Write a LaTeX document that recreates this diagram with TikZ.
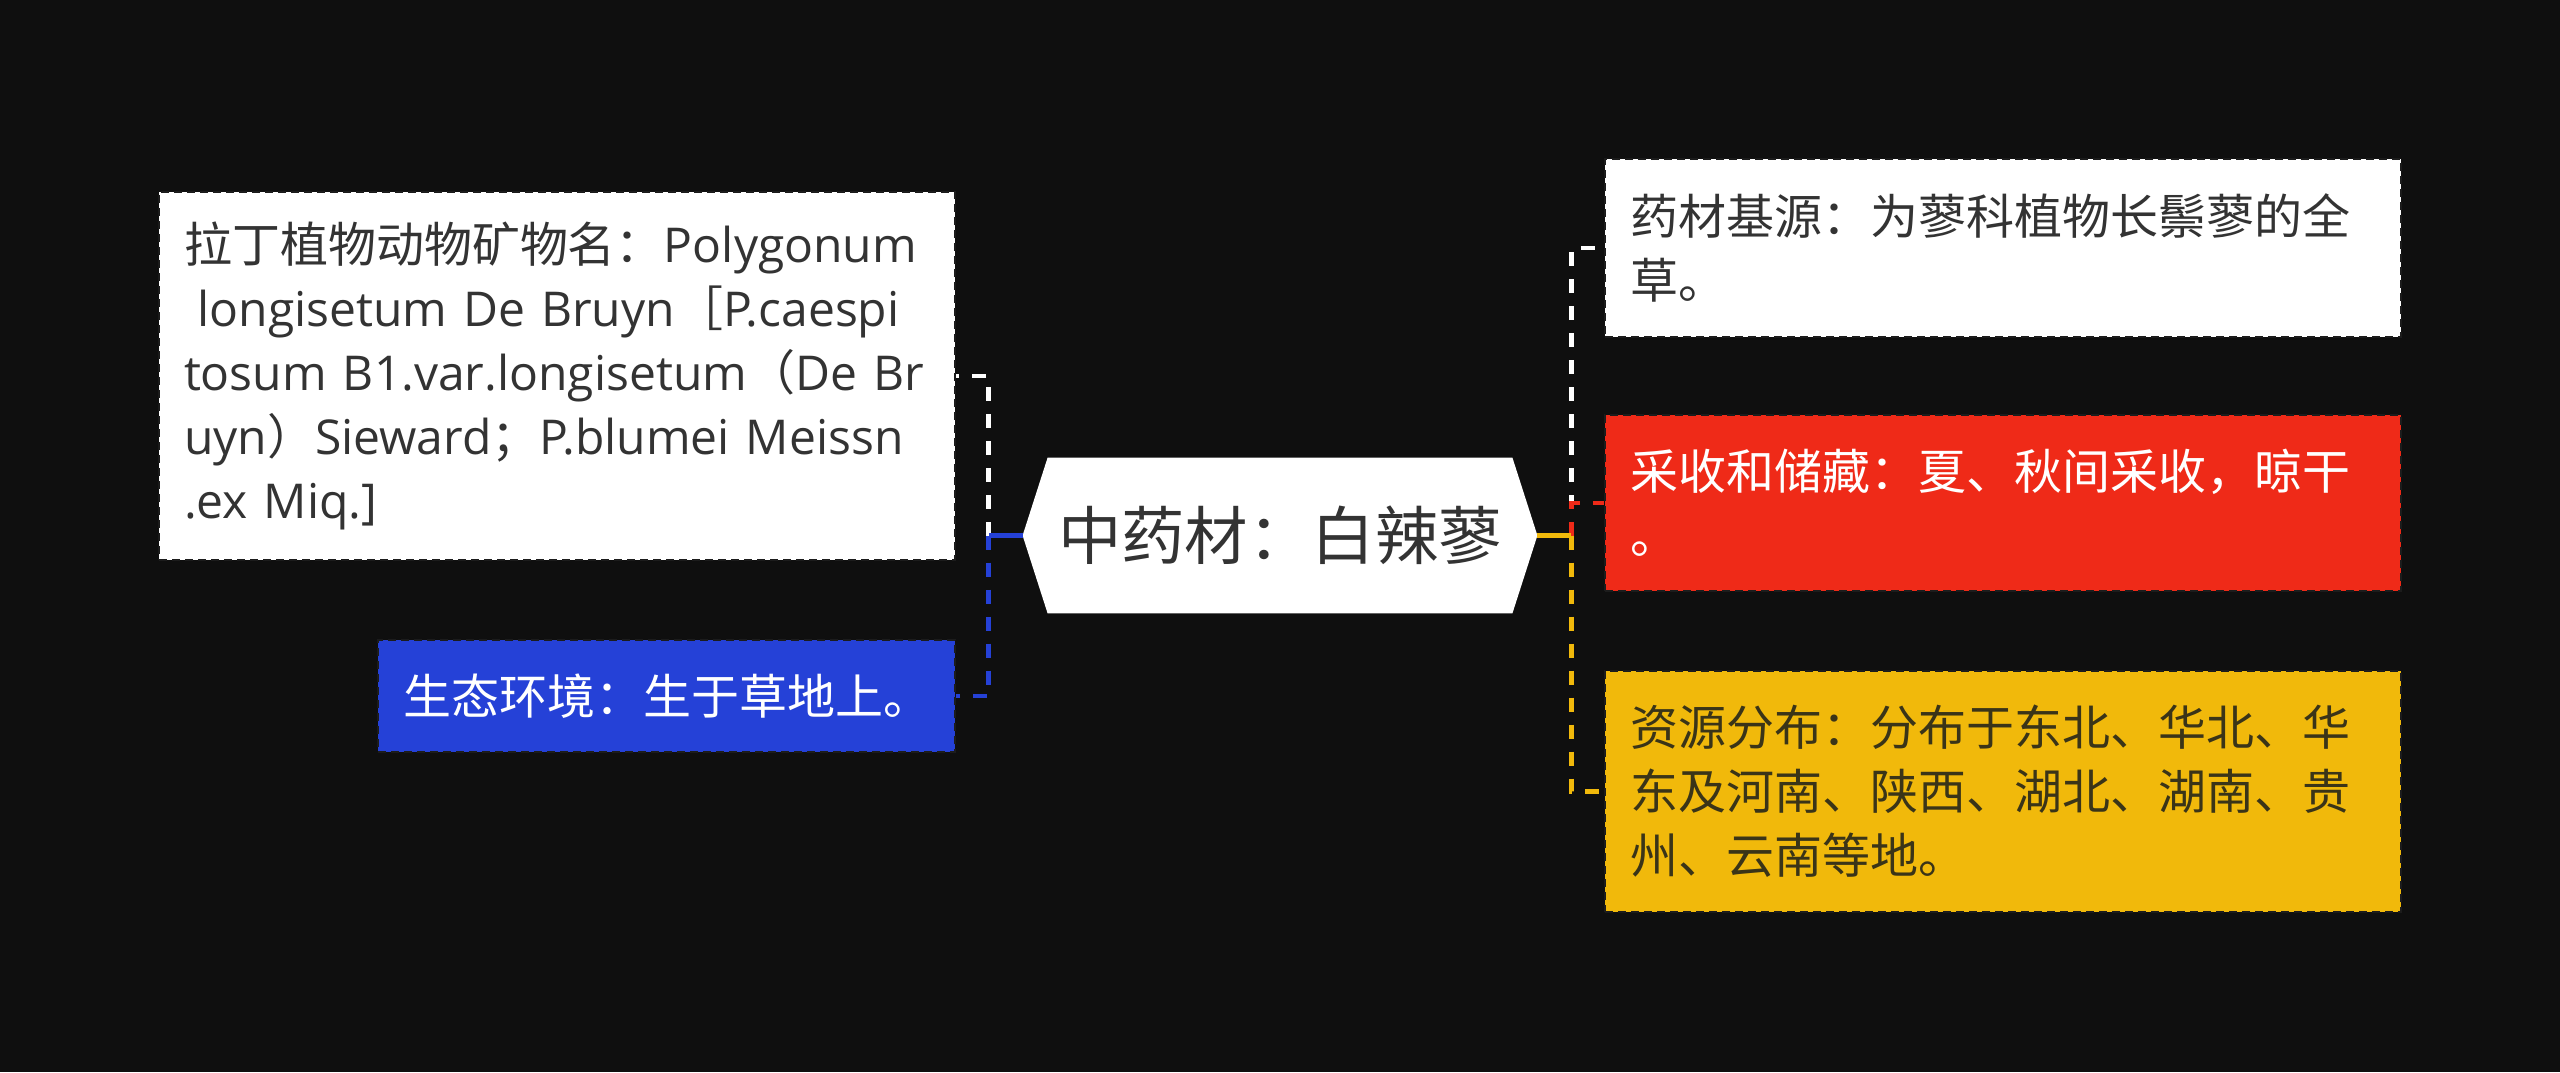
\documentclass[tikz,border=0pt]{standalone}
\usepackage{fontspec}
\setmainfont{Open Sans}
\newfontfamily\cjk{Noto Sans CJK SC}
\usetikzlibrary{calc}
\definecolor{bg}{HTML}{0F0F0F}
\definecolor{txtdark}{HTML}{333333}
\definecolor{cblue}{HTML}{2541D7}
\definecolor{cred}{HTML}{EF2A18}
\definecolor{cyellow}{HTML}{F1B90B}
\definecolor{ytxt}{HTML}{3A3418}
\definecolor{bordc}{HTML}{1C1C1C}
\begin{document}
\begin{tikzpicture}[x=0.5pt,y=-0.5pt,
  box/.style={draw=bordc, line width=1pt, dash pattern=on 4pt off 2.5pt,
    rectangle, inner xsep=12.5pt, inner ysep=0pt, align=left, anchor=center,
    font=\fontsize{24pt}{32pt}\selectfont},
  conn/.style={line width=2.4pt, dash pattern=on 7pt off 6.5pt},
  stub/.style={line width=2.4pt}]
\fill[bg] (0,0) rectangle (2560,1072);
\useasboundingbox (0,0) rectangle (2560,1072);

% left boxes
\node[box, fill=white, text=txtdark, text width=373pt, minimum height=184pt] (lw) at (557,376)
 {{\cjk 拉丁植物动物矿物名：}Polygonum\\
  \hspace*{0.28em}longisetum De Bruyn{\cjk ［}P.caespi\\
  tosum B1.var.longisetum{\cjk （}De Br\\
  uyn{\cjk ）}Sieward{\cjk ；}P.blumei Meissn\\
  .ex Miq.]};
\node[box, fill=cblue, text=white, text width=263.5pt, minimum height=56pt, font=\cjk\fontsize{24pt}{32pt}\selectfont] (bl) at (666.5,696)
 {生态环境：生于草地上。};

% centre
\node[inner sep=0pt, minimum width=232pt, minimum height=77.5pt, text=txtdark, font=\cjk\fontsize{31.7pt}{36pt}\selectfont] (c) at (1280,535.5) {中药材：白辣蓼};
\coordinate (cl) at ($(c.west)+(-25,0)$);
\coordinate (cr) at ($(c.east)+(25,0)$);
\fill[white] (cl) -- (c.north west) -- (c.north east) -- (cr) -- (c.south east) -- (c.south west) -- cycle;
\node[text=txtdark, font=\cjk\fontsize{31.7pt}{36pt}\selectfont] at (c.center) {中药材：白辣蓼};

% right boxes
\node[box, fill=white, text=txtdark, text width=373pt, minimum height=89pt, font=\cjk\fontsize{24pt}{32pt}\selectfont] (rw) at (2003,248)
 {药材基源：为蓼科植物长鬃蓼的全\\草。};
\node[box, fill=cred, text=white, text width=373pt, minimum height=88pt, font=\cjk\fontsize{24pt}{32pt}\selectfont] (rr) at (2003,503)
 {采收和储藏：夏、秋间采收，晾干\\。};
\node[box, fill=cyellow, text=ytxt, text width=373pt, minimum height=120.5pt, font=\cjk\fontsize{24pt}{32pt}\selectfont] (ry) at (2003,791.5)
 {资源分布：分布于东北、华北、华\\东及河南、陕西、湖北、湖南、贵\\州、云南等地。};

% connectors
\coordinate (jl) at ($(cl)+(-34,0)$);
\coordinate (jr) at ($(cr)+(34,0)$);
\draw[conn, white] (jl) |- (lw.east);
\draw[conn, cblue] (jl) |- (bl.east);
\draw[stub, cblue] (cl) -- (jl);
\draw[conn, white] (jr) |- (rw.west);
\draw[conn, cred] (jr) |- (rr.west);
\draw[conn, cyellow] (jr) |- (ry.west);
\draw[stub, cyellow] (cr) -- (jr);
\end{tikzpicture}
\end{document}
